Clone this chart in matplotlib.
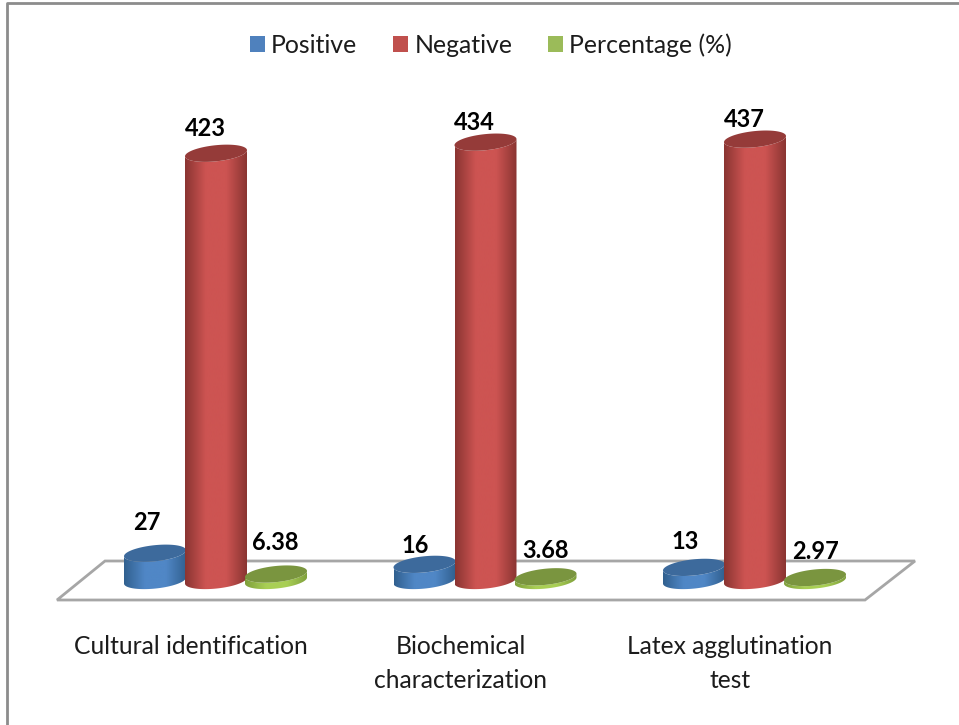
import numpy as np
import matplotlib
matplotlib.use('Agg')
import matplotlib.pyplot as plt
from matplotlib.colors import LinearSegmentedColormap
from matplotlib.lines import Line2D
from matplotlib.patches import Patch, Polygon

CATEGORIES = ['Cultural identification', 'Biochemical\ncharacterization', 'Latex agglutination\ntest']
SERIES = ['Positive', 'Negative', 'Percentage (%)']
POSITIVE = [27, 16, 13]
NEGATIVE = [423, 434, 437]
PERCENTAGE = [6.38, 3.68, 2.97]
VALUES = [POSITIVE, NEGATIVE, PERCENTAGE]

W, H = 959, 725
BASE_PX = 580.5     # pixel row of value 0
FLOOR_PX = 600      # bottom of the axes
PX_PER_VAL = 1.01
X0_PX = 216         # first red bar
DX_PX = 269.5       # pixels between categories

# side colour at the edge, side colour in the middle, top face, legend swatch
STYLES = [('#31608f', '#5087c6', '#3d6a9c', '#4f81bd'),
          ('#8a3532', '#cd5452', '#953b39', '#c0504d'),
          ('#7f9f3c', '#a9cf55', '#7a953f', '#9bbb59')]
OFFSETS = [-61 / DX_PX, 0, 60 / DX_PX]
BAR_W = 62 / DX_PX
ELL_H = 8.0   # half height of ellipse, same unit as values
TILT = 3.0

# label shift from the top of the bar in pixels
LABEL_DX = [[-8, -9, -9], [-11, -11, -11], [-1, 0, 0]]
LABEL_DY = [[31, 19, 26], [25, 20, 20], [32, 26, 26]]

plt.rcParams['font.family'] = ['Lato', 'DejaVu Sans']
TXT = '#1c1c1c'

fig = plt.figure(figsize=(W / 100, H / 100), dpi=100)
ax = fig.add_axes([0, 1 - FLOOR_PX / H, 1, FLOOR_PX / H])
YLIM = ((BASE_PX - FLOOR_PX) / PX_PER_VAL, BASE_PX / PX_PER_VAL)
XLIM = (-X0_PX / DX_PX, (W - X0_PX) / DX_PX)
for sp in ax.spines.values():
   sp.set_visible(False)
ax.set_yticks([])


def ellipse_xy(cx, cy, t):
   return cx + BAR_W / 2 * np.cos(t), cy + ELL_H * np.sin(t) + TILT * np.cos(t)


def cylinder(cx, val, style, z):
   edge, mid, top, _ = style
   t = np.linspace(np.pi, 2 * np.pi, 60)
   bx, by = ellipse_xy(cx, 0, t)
   tx, ty = ellipse_xy(cx, val, t[::-1])
   body = Polygon(np.column_stack([np.r_[bx, tx], np.r_[by, ty]]), closed=True, fc='none', ec='none', zorder=z)
   ax.add_patch(body)
   cmap = LinearSegmentedColormap.from_list('cyl', [edge, mid, mid, edge])
   grad = np.linspace(0, 1, 128).reshape(1, -1)
   im = ax.imshow(grad, cmap=cmap, aspect='auto', zorder=z, interpolation='bilinear',
                  extent=(cx - BAR_W / 2, cx + BAR_W / 2, -25, val + 25))
   im.set_clip_path(body)
   t = np.linspace(0, 2 * np.pi, 120)
   ex, ey = ellipse_xy(cx, val, t)
   ax.fill(ex, ey, color=top, lw=0, zorder=z + 0.1)


positions = np.arange(len(CATEGORIES))

# floor of the 3D chart
ax.add_patch(Polygon([(-159 / DX_PX, YLIM[0]), (-111 / DX_PX, -YLIM[0]), (699 / DX_PX, -YLIM[0]), (649 / DX_PX, YLIM[0])],
                     closed=True, fc='white', ec='#a6a6a6', lw=2, zorder=1, clip_on=False))

for s, vals in enumerate(VALUES):
   for i, v in enumerate(vals):
      cx = positions[i] + OFFSETS[s]
      cylinder(cx, v, STYLES[s], 2 + s)
      ax.annotate(str(v), (cx, v), xytext=(LABEL_DX[s][i] * 0.72, LABEL_DY[s][i] * 0.72),
                  textcoords='offset points', ha='center', va='center', fontsize=17,
                  fontweight='bold', color='black', zorder=6)

ax.set_xlim(XLIM)
ax.set_ylim(YLIM)

ax.set_xticks(positions - 25 / DX_PX, CATEGORIES, fontsize=17.7, color=TXT, linespacing=1.6)
ax.tick_params(axis='x', length=0, pad=25)

handles = [Patch(fc=st[3], ec='none') for st in STYLES]
fig.legend(handles, SERIES, ncol=3, loc='center', bbox_to_anchor=(491 / W, 1 - 45 / H), frameon=False,
           fontsize=17.9, labelcolor=TXT, handlelength=0.6, handleheight=0.6,
           handletextpad=0.25, columnspacing=1.45, borderpad=0)

# picture frame
fig.add_artist(Line2D([7 / W, 7 / W, 1], [0, 1 - 3 / H, 1 - 3 / H], color='#8c8c8c', lw=2))

fig.savefig('out.png', dpi=100)
